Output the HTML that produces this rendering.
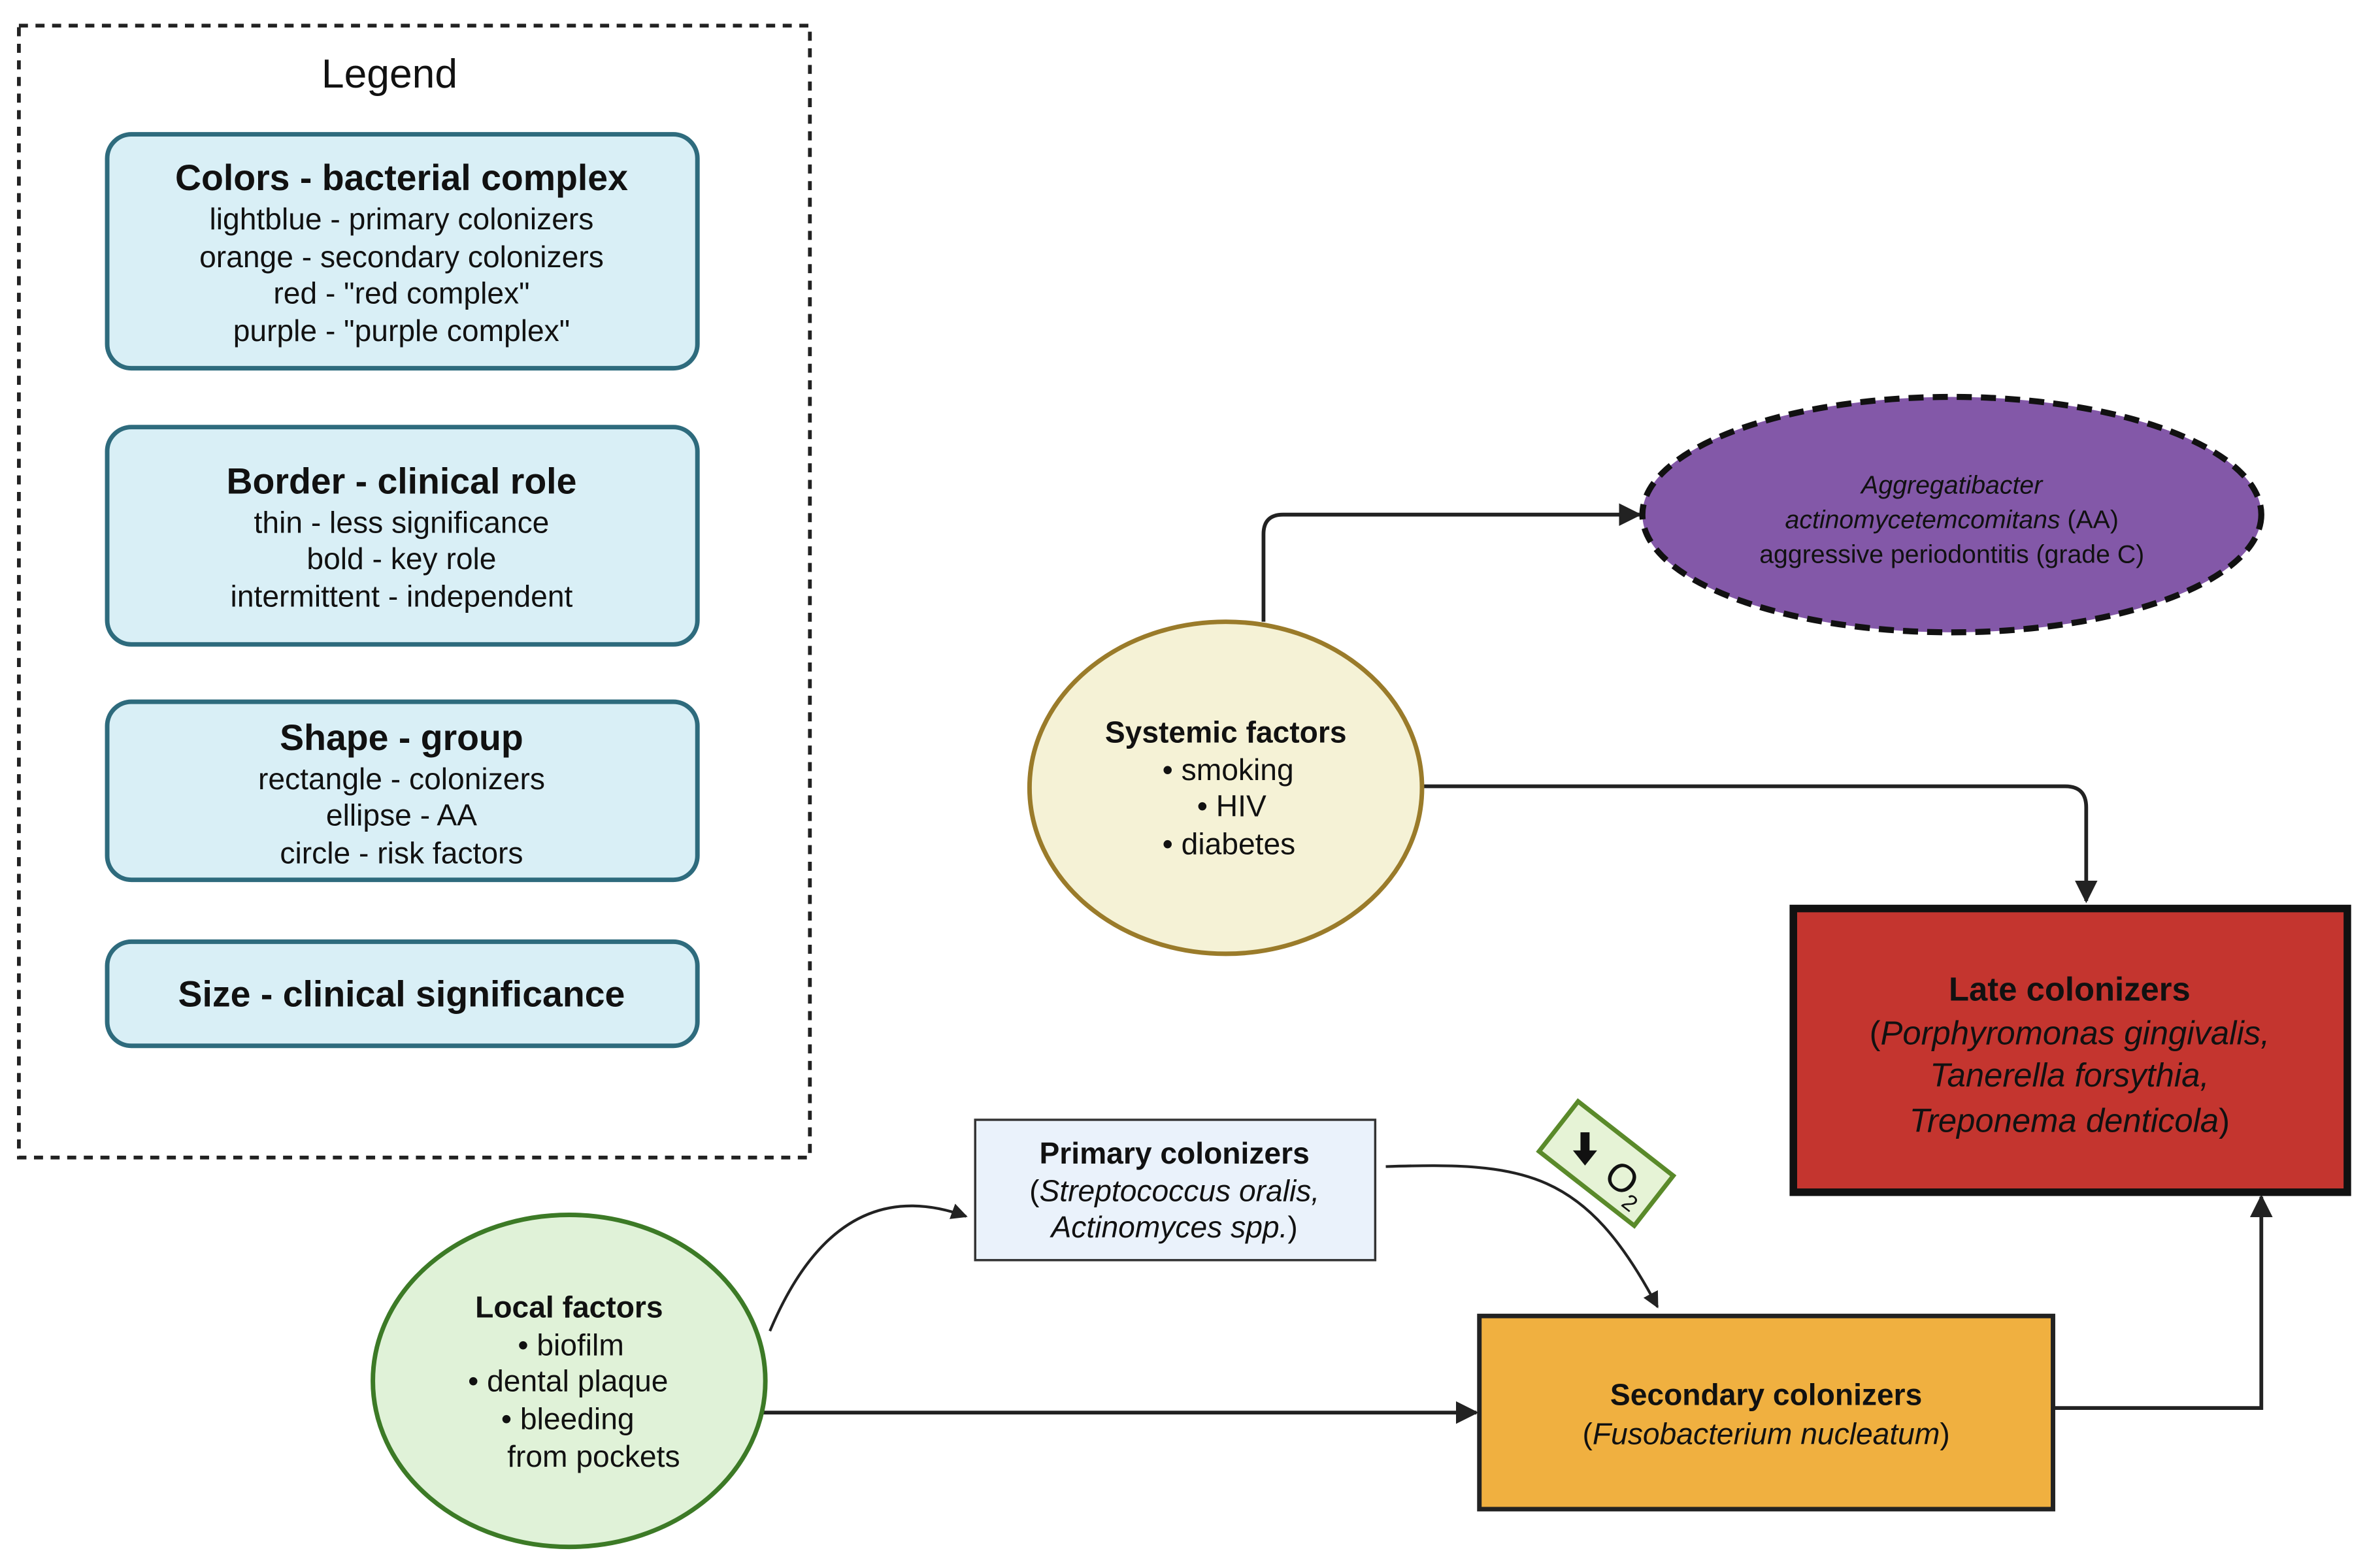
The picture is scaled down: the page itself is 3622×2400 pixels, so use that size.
<!DOCTYPE html>
<html><head><meta charset="utf-8"><style>
html,body{margin:0;padding:0;background:#fff;}
svg{display:block;}
text{font-family:"Liberation Sans",sans-serif;fill:#111;}
</style></head><body>
<svg width="3622" height="2400" viewBox="0 0 1568 1039" xmlns="http://www.w3.org/2000/svg">
<defs>
<marker id="ah" viewBox="0 0 10 10" refX="9" refY="5" markerWidth="6" markerHeight="6" orient="auto"><path d="M0,0 L10,5 L0,10 z" fill="#222"/></marker>
</defs>
<rect x="0" y="0" width="1568" height="1039" fill="#fff"/>
<!-- Legend -->
<rect x="12.5" y="17" width="524" height="750" fill="none" stroke="#222" stroke-width="2.5" stroke-dasharray="6,5"/>
<text x="258" y="58" font-size="27" text-anchor="middle">Legend</text>
<g stroke="#2e6b7d" stroke-width="3" fill="#d9eff6">
<rect x="71" y="89" width="391" height="155" rx="16"/>
<rect x="71" y="283" width="391" height="144" rx="16"/>
<rect x="71" y="465" width="391" height="118" rx="16"/>
<rect x="71" y="624" width="391" height="69" rx="16"/>
</g>
<g text-anchor="middle" font-size="20">
<text x="266" y="126" font-size="24" font-weight="bold">Colors - bacterial complex</text>
<text x="266" y="152">lightblue - primary colonizers</text>
<text x="266" y="177">orange - secondary colonizers</text>
<text x="266" y="201">red - "red complex"</text>
<text x="266" y="226">purple - "purple complex"</text>
<text x="266" y="327" font-size="24" font-weight="bold">Border - clinical role</text>
<text x="266" y="353">thin - less significance</text>
<text x="266" y="377">bold - key role</text>
<text x="266" y="402">intermittent - independent</text>
<text x="266" y="497" font-size="24" font-weight="bold">Shape - group</text>
<text x="266" y="523">rectangle - colonizers</text>
<text x="266" y="547">ellipse - AA</text>
<text x="266" y="572">circle - risk factors</text>
<text x="266" y="667" font-size="24" font-weight="bold">Size - clinical significance</text>
</g>
<!-- connectors -->
<g fill="none" stroke="#222" stroke-width="2.5">
<path d="M837,412 L837,354 Q837,341 850,341 L1086,341" marker-end="url(#ah)"/>
<path d="M942,521 L1368,521 Q1382,521 1382,535 L1382,597" marker-end="url(#ah)"/>
<path d="M1360,933 L1498,933 L1498,793" marker-end="url(#ah)"/>
<path d="M502,936 L978,936" marker-end="url(#ah)"/>
<path d="M510,882 Q555,775 640,806" stroke-width="1.8" marker-end="url(#ah)"/>
<path d="M918,773 C1010,770 1050,775 1098,866" stroke-width="1.8" marker-end="url(#ah)"/>
</g>
<!-- purple ellipse -->
<ellipse cx="1293" cy="341" rx="205" ry="78" fill="#8358a8" stroke="#111" stroke-width="4" stroke-dasharray="10,6"/>
<g text-anchor="middle" font-size="17">
<text x="1293" y="327" font-style="italic">Aggregatibacter</text>
<text x="1293" y="350"><tspan font-style="italic">actinomycetemcomitans</tspan> (AA)</text>
<text x="1293" y="373">aggressive periodontitis (grade C)</text>
</g>
<!-- systemic -->
<ellipse cx="812" cy="522" rx="130" ry="110" fill="#f5f2d6" stroke="#9a7b2a" stroke-width="3"/>
<g font-size="20">
<text x="812" y="492" text-anchor="middle" font-weight="bold">Systemic factors</text>
<text x="770" y="517">•  smoking</text>
<text x="793" y="541">•  HIV</text>
<text x="770" y="566">•  diabetes</text>
</g>
<!-- late -->
<rect x="1188" y="602" width="367" height="188" fill="#c4352f" stroke="#111" stroke-width="5"/>
<g text-anchor="middle" font-size="22">
<text x="1371" y="663" font-weight="bold">Late colonizers</text>
<text x="1371" y="692">(<tspan font-style="italic">Porphyromonas gingivalis,</tspan></text>
<text x="1371" y="720" font-style="italic">Tanerella forsythia,</text>
<text x="1371" y="750"><tspan font-style="italic">Treponema denticola</tspan>)</text>
</g>
<!-- primary -->
<rect x="646" y="742" width="265" height="93" fill="#eaf2fb" stroke="#333" stroke-width="1.5"/>
<g text-anchor="middle" font-size="20">
<text x="778" y="771" font-weight="bold">Primary colonizers</text>
<text x="778" y="796">(<tspan font-style="italic">Streptococcus oralis,</tspan></text>
<text x="778" y="820"><tspan font-style="italic">Actinomyces spp.</tspan>)</text>
</g>
<!-- O2 tag -->
<g transform="translate(1064,771) rotate(38)">
<rect x="-40" y="-21" width="80" height="42" fill="#e6f3d6" stroke="#5a8a2a" stroke-width="3"/>
<path d="M-20,-10 L-14,-10 L-14,2 L-9,2 L-17,12 L-25,2 L-20,2 z" fill="#111" transform="rotate(-38 -17 1)"/>
<text x="4" y="10" font-size="26">O<tspan font-size="15" dy="6">2</tspan></text>
</g>
<!-- local -->
<ellipse cx="377" cy="915" rx="130" ry="110" fill="#e0f2d8" stroke="#3c7a26" stroke-width="3"/>
<g font-size="20">
<text x="377" y="873" text-anchor="middle" font-weight="bold">Local factors</text>
<text x="343" y="898">•  biofilm</text>
<text x="310" y="922">•  dental plaque</text>
<text x="332" y="947">•  bleeding</text>
<text x="336" y="972">from pockets</text>
</g>
<!-- secondary -->
<rect x="980" y="872" width="380" height="128" fill="#f0b040" stroke="#222" stroke-width="3"/>
<g text-anchor="middle" font-size="20">
<text x="1170" y="931" font-weight="bold">Secondary colonizers</text>
<text x="1170" y="957">(<tspan font-style="italic">Fusobacterium nucleatum</tspan>)</text>
</g>
</svg>
</body></html>
